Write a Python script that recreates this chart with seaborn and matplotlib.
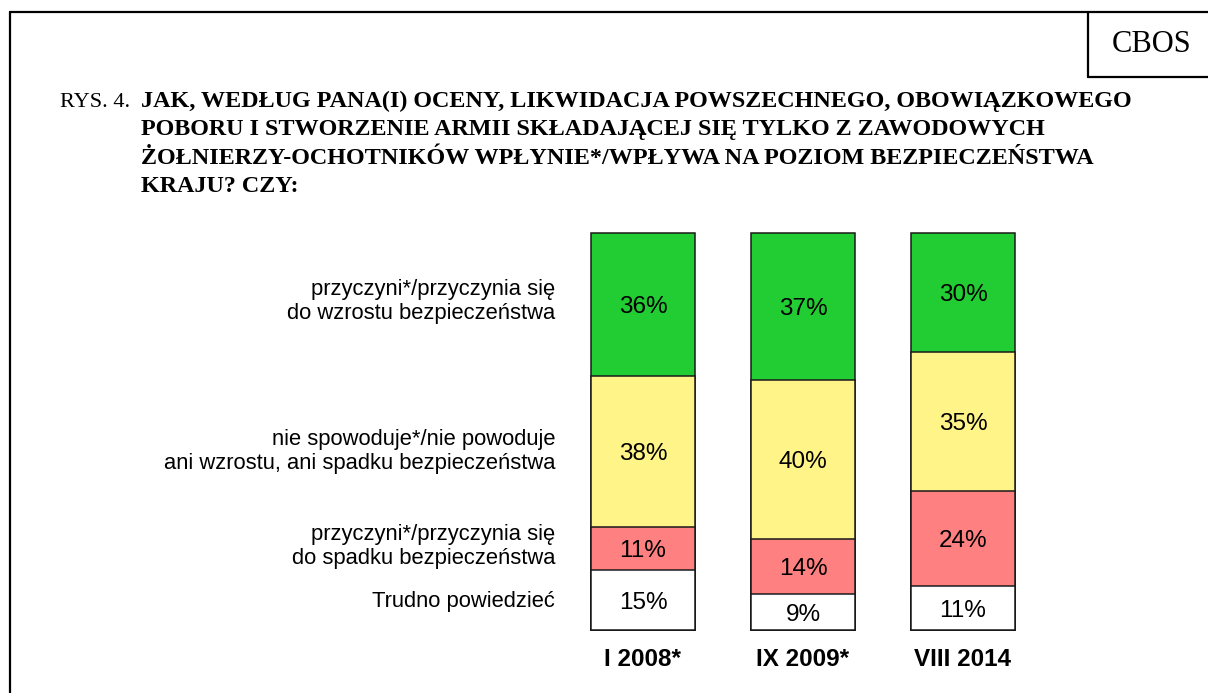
import pandas as pd
import seaborn as sns
import matplotlib.pyplot as plt
from matplotlib.lines import Line2D
from matplotlib.transforms import blended_transform_factory

# --- Dane ---
okresy = ['I 2008*', 'IX 2009*', 'VIII 2014']
wzrost = [36, 37, 30]
bez_zmian = [38, 40, 35]
spadek = [11, 14, 24]
trudno = [15, 9, 11]

kategorie = ['przyczyni*/przyczynia się\ndo wzrostu bezpieczeństwa',
             'nie spowoduje*/nie powoduje\nani wzrostu, ani spadku bezpieczeństwa',
             'przyczyni*/przyczynia się\ndo spadku bezpieczeństwa',
             'Trudno powiedzieć']
kolory = {'wzrost': '#22CD33', 'bez_zmian': '#FFF487',
          'spadek': '#FF8080', 'trudno': '#FFFFFF'}

tytul_1 = 'JAK, WEDŁUG PANA(I) OCENY, LIKWIDACJA POWSZECHNEGO, OBOWIĄZKOWEGO'
tytul_reszta = ['POBORU I STWORZENIE ARMII SKŁADAJĄCEJ SIĘ TYLKO Z ZAWODOWYCH',
                'ŻOŁNIERZY-OCHOTNIKÓW WPŁYNIE*/WPŁYWA NA POZIOM BEZPIECZEŃSTWA',
                'KRAJU? CZY:']

sns.set_theme(style='white')
plt.rcParams['font.family'] = ['Liberation Sans', 'DejaVu Sans']
plt.rcParams['text.color'] = 'black'
plt.rcParams['xtick.color'] = 'black'
plt.rcParams['xtick.labelcolor'] = 'black'
serif = ['Liberation Serif', 'DejaVu Serif']

W, H = 1208, 693
fig = plt.figure(figsize=(W / 100, H / 100), dpi=100)
fig.patch.set_facecolor('white')
ax = fig.add_axes([563 / W, 63 / H, 480 / W, 397 / H])

df = pd.DataFrame({'okres': okresy, 'trudno': trudno, 'spadek': spadek,
                   'bez_zmian': bez_zmian, 'wzrost': wzrost})
seria = ['trudno', 'spadek', 'bez_zmian', 'wzrost']
kum = df[seria].cumsum(axis=1)
kum['okres'] = df['okres']

# słupki skumulowane: od najwyższego do najniższego
for s in reversed(seria):
    sns.barplot(data=kum, x='okres', y=s, color=kolory[s], saturation=1,
                width=0.65, edgecolor='#1a1a1a', linewidth=1.1, ax=ax)
for p in ax.patches:
    p.set_clip_on(False)

# etykiety procentowe
for i in range(len(okresy)):
    for s in seria:
        v = df.loc[i, s]
        y = kum.loc[i, s] - v / 2
        ax.text(i, y, f'{v}%', ha='center', va='center_baseline', fontsize=17.5)

ax.set_ylim(0, 100)
ax.set_xlim(-0.5, 2.5)
ax.set_yticks([])
ax.set_xlabel('')
ax.set_ylabel('')
ax.set_xticks(range(len(okresy)))
ax.set_xticklabels(okresy, fontweight='bold', fontsize=17.5)
ax.tick_params(axis='x', length=0, pad=13)
sns.despine(ax=ax, left=True, bottom=True)
ax.set_facecolor('none')

# opisy kategorii (przy pierwszym słupku)
trans = blended_transform_factory(fig.transFigure, ax.transData)
przesun = [0.75, 0, 0.6, -0.25]
for k, s in enumerate(reversed(seria)):
    y = kum.loc[0, s] - df.loc[0, s] / 2 + przesun[k]
    ax.text(555 / W, y, kategorie[k], transform=trans, ha='right',
            va='center', fontsize=15.8, linespacing=1.2)

# tytuł
fig.text(60 / W, 1 - 107 / H, 'RYS. 4.', family=serif, fontsize=16,
         va='baseline')
fig.text(141 / W, 1 - 107 / H, tytul_1, family=serif, fontsize=17.4,
         fontweight='bold', va='baseline')
for j, linia in enumerate(tytul_reszta):
    fig.text(141 / W, 1 - (107 + 28.5 * (j + 1)) / H, linia, family=serif,
             fontsize=17.4, fontweight='bold', va='baseline')

# ramka i znak CBOS
lw = 1.6
fig.add_artist(Line2D([10 / W, 10 / W], [0, 1 - 12 / H], color='black', lw=lw))
fig.add_artist(Line2D([10 / W, 1], [1 - 12 / H, 1 - 12 / H], color='black', lw=lw))
fig.add_artist(Line2D([1088 / W, 1088 / W], [1 - 12 / H, 1 - 77 / H], color='black', lw=lw))
fig.add_artist(Line2D([1088 / W, 1], [1 - 77 / H, 1 - 77 / H], color='black', lw=lw))
fig.text(1152 / W, 1 - 45 / H, 'CBOS', family=serif, fontsize=22,
         ha='center', va='center')

fig.savefig('out.png', dpi=100)
